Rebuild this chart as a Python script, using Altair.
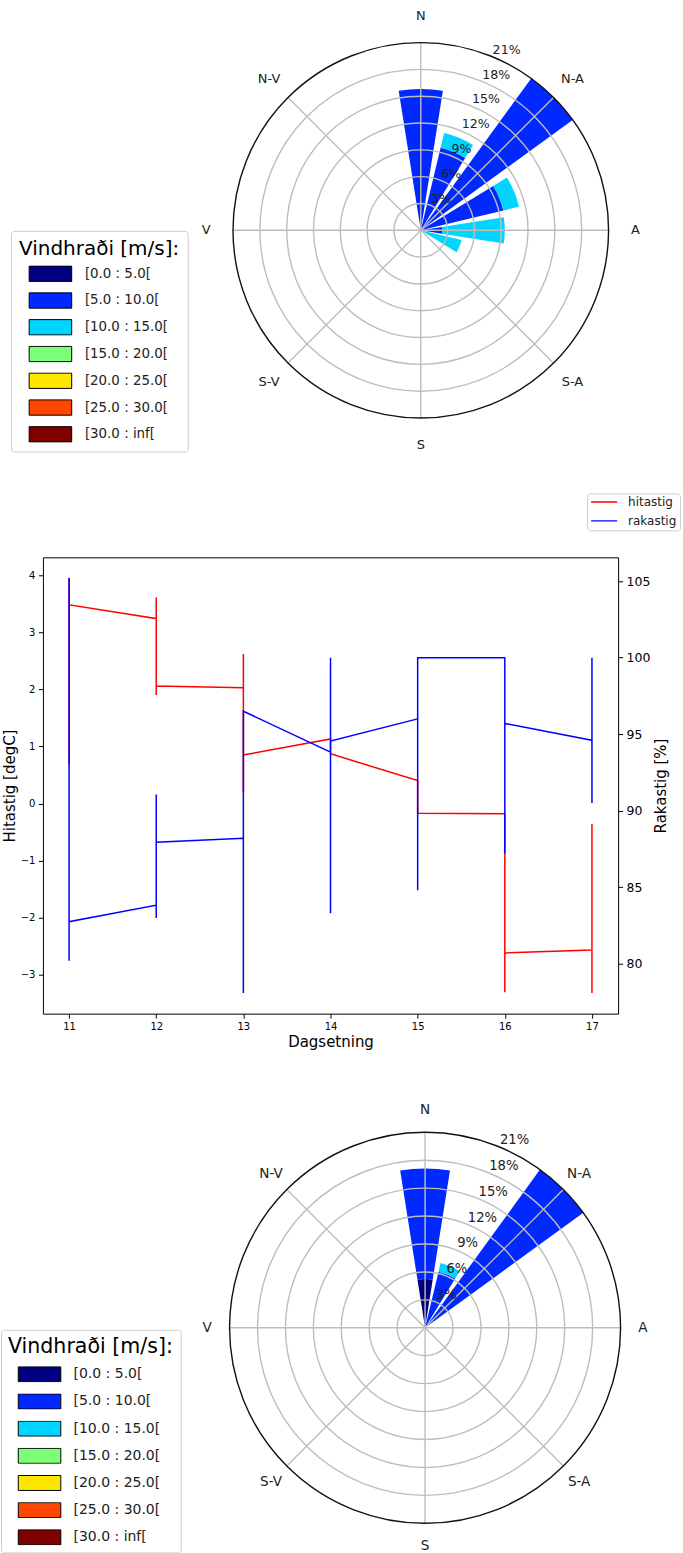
import math
import altair as alt
import pandas as pd

FONT = "DejaVu Sans"
TEXT = "#222222"
GRID = "#bdbdbd"

# ---------------------------------------------------------------- wind roses
SECTORS = [i * 22.5 for i in range(16)]          # bar directions (deg, clockwise from N)
OPENING = 0.8                                      # share of a sector covered by a bar
RMAX = 21.0                                        # outer ring (%)

SPEED_BINS = ["[0.0 : 5.0[", "[5.0 : 10.0[", "[10.0 : 15.0[", "[15.0 : 20.0[",
              "[20.0 : 25.0[", "[25.0 : 30.0[", "[30.0 : inf["]
SPEED_COLORS = ["#000080", "#0028ff", "#00d4ff", "#7dff7a", "#ffe600", "#ff4700", "#800000"]

# frequency (%) per sector and speed bin – first rose
ROSE1_0_5 = [0.0, 0.0, 0.0, 0.0, 0.0, 0.0, 0.0, 0.0, 0.0, 0.0, 0.0, 0.0, 0.0, 0.0, 0.0, 0.0]
ROSE1_5_10 = [15.8, 9.5, 21.0, 9.5, 2.4, 0.0, 0.0, 0.0, 0.0, 0.0, 0.0, 0.0, 0.0, 0.0, 0.0, 0.0]
ROSE1_10_15 = [0.0, 1.7, 0.0, 1.8, 7.0, 4.7, 0.0, 0.0, 0.0, 0.0, 0.0, 0.0, 0.0, 0.0, 0.0, 0.0]

# frequency (%) per sector and speed bin – second rose
ROSE2_0_5 = [5.25, 0.0, 0.0, 0.0, 0.0, 0.0, 0.0, 0.0, 0.0, 0.0, 0.0, 0.0, 0.0, 0.0, 0.0, 0.0]
ROSE2_5_10 = [11.85, 6.2, 21.0, 0.0, 0.0, 0.0, 0.0, 0.0, 0.0, 0.0, 0.0, 0.0, 0.0, 0.0, 0.0, 0.0]
ROSE2_10_15 = [0.0, 0.95, 0.0, 0.0, 0.0, 0.0, 0.0, 0.0, 0.0, 0.0, 0.0, 0.0, 0.0, 0.0, 0.0, 0.0]

RING_STEPS = [3, 6, 9, 12, 15, 18, 21]
RING_LABEL_ANGLE = 22.5
COMPASS_ANGLES = [0, 45, 90, 135, 180, 225, 270, 315]
COMPASS_NAMES = ["N", "N-A", "A", "S-A", "S", "S-V", "V", "N-V"]

# ---------------------------------------------------------------- time series
TEMP_DAYS = [11, 11, 11, 12, 12, 12, 12, 13, 13, 13, 13, 14, 14,
             15, 15, 16, 16, 16, 17, 17, 17]
TEMP_VALUES = [3.95, 0.69, 3.48, 3.24, 3.61, 1.90, 2.06, 2.03, 2.62, 0.20, 0.85,
               1.13, 0.87, 0.40, -0.17, -0.18, -3.31, -2.62, -2.57, -0.36, -3.32]
HUM_DAYS = [11, 11, 11, 12, 12, 12, 12, 13, 13, 13, 14, 14, 14, 14,
            15, 15, 15, 16, 16, 16, 17, 17, 17]
HUM_VALUES = [105.2, 80.2, 82.75, 83.83, 91.06, 83.0, 87.94, 88.2, 78.1, 96.5,
              93.83, 100.0, 83.3, 94.55, 96.0, 84.8, 100.0, 100.0, 87.2, 95.7,
              94.6, 100.0, 90.5]
DAY_TICKS = [11, 12, 13, 14, 15, 16, 17]
TEMP_TICKS = [-3, -2, -1, 0, 1, 2, 3, 4]
HUM_TICKS = [80, 85, 90, 95, 100, 105]
SERIES = ["hitastig", "rakastig"]
SERIES_COLORS = ["#ff0000", "#0000ff"]

# ---------------------------------------------------------------- layout
ORIGIN_X = 43            # left edge of every panel's plot area on the page
PANEL_W = 683 - ORIGIN_X
SPACING = 10
ROSE1_TOP = 0
ROSE1_H = 480
ROSE2_TOP = 1060.7
ROSE2_H = 492


def sector_table(bins):
    half = 22.5 * OPENING / 2
    rows = []
    for s, d in enumerate(SECTORS):
        base = 0.0
        for label, values in bins:
            v = values[s]
            if v > 0:
                rows.append({"bin": label, "t0": d - half, "t1": d + half,
                             "r0": base, "r1": base + v})
                base += v
    return pd.DataFrame(rows)


def wind_rose(table, top, height, cx, cy, rpx, label_r, text_fs, lg):
    """cx, cy and the legend corner are page coordinates."""
    cx -= ORIGIN_X
    cy -= top
    k = rpx / RMAX
    xs = alt.Scale(domain=[-cx / k, (PANEL_W - cx) / k], nice=False, zero=False)
    ys = alt.Scale(domain=[-(height - cy) / k, cy / k], nice=False, zero=False)
    ts = alt.Scale(domain=[0, 360], range=[0, 2 * math.pi])
    rs = alt.Scale(type="linear", domain=[0, RMAX], range=[0, rpx], nice=False)
    cxd = alt.XDatum(0, scale=xs, axis=None)
    cyd = alt.YDatum(0, scale=ys, axis=None)

    sw, sh = lg["rect"]
    s = lg["clip"]                       # symbol box side used by the legend layout
    legend = alt.Legend(
        orient="none", legendX=lg["x"] - ORIGIN_X, legendY=lg["y"] - top,
        titleFont=FONT, titleFontSize=lg["title"], titleFontWeight="normal",
        titleColor="black", titleLimit=400, titlePadding=lg["tpad"],
        labelFont=FONT, labelFontSize=lg["label"], labelColor=TEXT, labelLimit=400,
        symbolType=f"M{-sw / s:.4f},{-sh / s:.4f}H{sw / s:.4f}V{sh / s:.4f}H{-sw / s:.4f}Z",
        symbolSize=(2 * s) ** 2, symbolStrokeColor="black", symbolStrokeWidth=1,
        symbolOffset=lg["soff"], labelOffset=lg["loff"],
        clipHeight=lg["clipH"], rowPadding=lg["pitch"] - lg["clipH"],
        padding=lg["pad"], fillColor="white", strokeColor="#cccccc", cornerRadius=3,
    )

    bars = alt.Chart(table).mark_arc().encode(
        x=cxd, y=cyd,
        theta=alt.Theta("t0:Q", scale=ts, stack=None),
        theta2="t1:Q",
        radius=alt.Radius("r1:Q", scale=rs, stack=None),
        radius2="r0:Q",
        color=alt.Color("bin:N", title="Vindhraði [m/s]:",
                        scale=alt.Scale(domain=SPEED_BINS, range=SPEED_COLORS),
                        legend=legend),
    )

    ring_df = pd.DataFrame({"r": RING_STEPS, "a0": 0.0, "a1": 360.0})
    rings = alt.Chart(ring_df).transform_filter(f"datum.r < {RMAX}").mark_arc(
        filled=False, stroke=GRID, strokeWidth=1.4
    ).encode(
        x=cxd, y=cyd,
        theta=alt.Theta("a0:Q", scale=ts, stack=None), theta2="a1:Q",
        radius=alt.Radius("r:Q", scale=rs, stack=None),
    )
    outer = alt.Chart(ring_df).transform_filter(f"datum.r == {RMAX}").mark_arc(
        filled=False, stroke="#111111", strokeWidth=1.4
    ).encode(
        x=cxd, y=cyd,
        theta=alt.Theta("a0:Q", scale=ts, stack=None), theta2="a1:Q",
        radius=alt.Radius("r:Q", scale=rs, stack=None),
    )

    spokes = alt.Chart(pd.DataFrame({"angle": COMPASS_ANGLES})).transform_calculate(
        x0="0", y0="0",
        x1=f"{RMAX} * sin(datum.angle * PI / 180)",
        y1=f"{RMAX} * cos(datum.angle * PI / 180)",
    ).mark_rule(stroke=GRID, strokeWidth=1.4).encode(
        x=alt.X("x0:Q", scale=xs, axis=None), y=alt.Y("y0:Q", scale=ys, axis=None),
        x2="x1:Q", y2="y1:Q",
    )

    ring_text = alt.Chart(pd.DataFrame({"r": RING_STEPS})).transform_calculate(
        ang=str(RING_LABEL_ANGLE), lab="datum.r + '%'"
    ).mark_text(align="left", baseline="bottom", font=FONT,
                fontSize=12.6 * text_fs, color=TEXT).encode(
        x=cxd, y=cyd,
        theta=alt.Theta("ang:Q", scale=ts, stack=None),
        radius=alt.Radius("r:Q", scale=rs, stack=None),
        text="lab:N",
    )

    compass = alt.Chart(pd.DataFrame({"angle": COMPASS_ANGLES, "name": COMPASS_NAMES})
                        ).transform_calculate(rr=str(label_r)).mark_text(
        align="center", baseline="middle", font=FONT, fontSize=13 * text_fs, color=TEXT
    ).encode(
        x=cxd, y=cyd,
        theta=alt.Theta("angle:Q", scale=ts, stack=None),
        radius=alt.Radius("rr:Q", scale=rs, stack=None),
        text="name:N",
    )

    return alt.layer(bars, rings, spokes, outer, ring_text, compass).properties(
        width=PANEL_W, height=height
    )


def padded(values):
    lo, hi = min(values), max(values)
    m = 0.05 * (hi - lo)
    return [lo - m, hi + m]


rose1 = wind_rose(
    sector_table([(SPEED_BINS[0], ROSE1_0_5), (SPEED_BINS[1], ROSE1_5_10),
                  (SPEED_BINS[2], ROSE1_10_15)]),
    ROSE1_TOP, ROSE1_H, cx=421.4, cy=228.5, rpx=188.0, label_r=24.0, text_fs=1.0,
    lg=dict(x=11, y=229, title=20, label=13.4, rect=(21.3, 7.65), clip=16,
            clipH=17, pitch=26.8, pad=8, tpad=6.5, soff=15.0, loff=18.0),
)
rose2 = wind_rose(
    sector_table([(SPEED_BINS[0], ROSE2_0_5), (SPEED_BINS[1], ROSE2_5_10),
                  (SPEED_BINS[2], ROSE2_10_15)]),
    ROSE2_TOP, ROSE2_H, cx=425.7, cy=1327.3, rpx=195.8, label_r=23.4, text_fs=1.047,
    lg=dict(x=1, y=1329.3, title=20.6, label=14.0, rect=(21.3, 7.5), clip=16,
            clipH=16, pitch=27.2, pad=7, tpad=9, soff=15.1, loff=17.5),
)

# ---------------------------------------------------------------- dual-axis line chart
temp_df = pd.DataFrame({"day": TEMP_DAYS, "value": TEMP_VALUES,
                        "series": SERIES[0], "idx": range(len(TEMP_DAYS))})
hum_df = pd.DataFrame({"day": HUM_DAYS, "value": HUM_VALUES,
                       "series": SERIES[1], "idx": range(len(HUM_DAYS))})

line_legend = alt.Legend(
    orient="none", legendX=545, legendY=-64,
    symbolType="stroke", symbolSize=676, symbolStrokeWidth=1.5,
    labelFont=FONT, labelFontSize=12, labelColor=TEXT,
    labelOffset=10, symbolOffset=0, clipHeight=11, rowPadding=6,
    padding=3, fillColor="white", strokeColor="#cccccc", cornerRadius=3,
)
series_color = alt.Color("series:N", title=None,
                         scale=alt.Scale(domain=SERIES, range=SERIES_COLORS),
                         legend=line_legend)

axis_style = dict(grid=False, domain=False, tickColor="black", tickSize=4.5,
                  labelFont=FONT, labelColor="black", labelPadding=3.5,
                  titleFont=FONT, titleFontSize=15, titleFontWeight="normal",
                  titleColor="black")

x_enc = alt.X("day:Q", scale=alt.Scale(domain=padded(TEMP_DAYS), nice=False, zero=False),
              axis=alt.Axis(values=DAY_TICKS, format="d", title="Dagsetning",
                            labelFontSize=10, titlePadding=3, **axis_style))

temp_line = alt.Chart(temp_df).mark_line(strokeWidth=1.5).encode(
    x=x_enc,
    y=alt.Y("value:Q", scale=alt.Scale(domain=padded(TEMP_VALUES), nice=False, zero=False),
            axis=alt.Axis(values=TEMP_TICKS, format="d", title="Hitastig [degC]",
                          labelFontSize=10, titlePadding=3, **axis_style)),
    color=series_color,
    order=alt.Order("idx:Q"),
)
hum_line = alt.Chart(hum_df).mark_line(strokeWidth=1.5).encode(
    x=x_enc,
    y=alt.Y("value:Q", scale=alt.Scale(domain=padded(HUM_VALUES), nice=False, zero=False),
            axis=alt.Axis(values=HUM_TICKS, format="d", title="Rakastig [%]", orient="right",
                          labelFontSize=12.5, titlePadding=4, titleAngle=270,
                          titleBaseline="top", **axis_style)),
    color=series_color,
    order=alt.Order("idx:Q"),
)

line_chart = alt.layer(temp_line, hum_line).resolve_scale(y="independent").properties(
    width=576, height=457, view=alt.ViewBackground(stroke="black", strokeWidth=1)
)

chart = alt.vconcat(rose1, line_chart, rose2, spacing=SPACING, padding=0).resolve_scale(
    color="independent", x="independent", y="independent",
    theta="independent", radius="independent",
).resolve_legend(color="independent").configure(
    background="white", font=FONT
).configure_view(stroke="transparent")

chart.save("out.html", embed_options={"renderer": "svg", "actions": False})
